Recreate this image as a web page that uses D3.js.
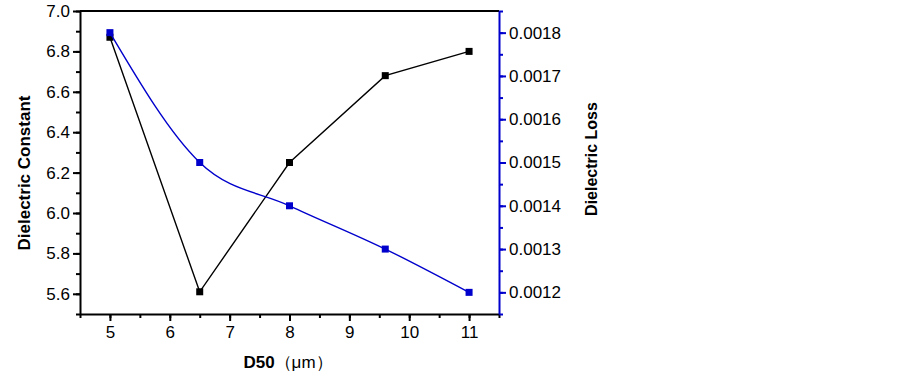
<!DOCTYPE html>
<html>
<head>
<meta charset="utf-8">
<script src="https://cdn.jsdelivr.net/npm/d3@7"></script>
<style>
  body { margin: 0; background: #fff; }
  text { font-family: "Liberation Sans", Arial, sans-serif; fill: #000; }
  .ttl { font-weight: bold; }
</style>
</head>
<body>
<svg id="chart" width="903" height="376"></svg>
<script>
// D50 particle size (um)
const d50 = [5, 6.5, 8, 9.6, 11];
// dielectric constant (left axis)
const constant = [6.87, 5.61, 6.25, 6.68, 6.80];
// dielectric loss (right axis)
const loss = [0.0018, 0.0015, 0.0014, 0.0013, 0.0012];

const xTicks = [5, 6, 7, 8, 9, 10, 11];
const yTicks = [5.6, 5.8, 6.0, 6.2, 6.4, 6.6, 6.8, 7.0];
const y2Ticks = [0.0012, 0.0013, 0.0014, 0.0015, 0.0016, 0.0017, 0.0018];

const svg = d3.select("#chart");
const pl = 80, pr = 499, pt = 11, pb = 314;
const blue = "#0000cc";

let x = d3.scaleLinear().domain([4.5, 11.5]).range([pl, pr]);
let y = d3.scaleLinear().domain([5.5, 7.0]).range([pb, pt]);
let y2 = d3.scaleLinear().domain([0.00115, 0.00185]).range([pb, pt]);

// top frame line
svg.append("line")
  .attr("x1", pl).attr("x2", pr)
  .attr("y1", pt).attr("y2", pt)
  .attr("stroke", "#000").attr("stroke-width", 2);

// minor ticks first
svg.append("g")
  .attr("transform", `translate(0,${pb})`)
  .call(d3.axisBottom(x).tickValues(d3.range(4.5, 11.51, 0.5)).tickSize(4).tickFormat(""))
  .call(g => g.select(".domain").remove())
  .selectAll("line").attr("stroke-width", 2);
svg.append("g")
  .attr("transform", `translate(${pl},0)`)
  .call(d3.axisLeft(y).tickValues(d3.range(5.5, 7.01, 0.1)).tickSize(4).tickFormat(""))
  .call(g => g.select(".domain").remove())
  .selectAll("line").attr("stroke-width", 2);
svg.append("g")
  .attr("transform", `translate(${pr},0)`)
  .call(d3.axisRight(y2).tickValues(d3.range(0.00115, 0.00185, 0.00005)).tickSize(4).tickFormat(""))
  .call(g => g.select(".domain").remove())
  .selectAll("line").attr("stroke", blue).attr("stroke-width", 2);

// major axes
let xAxis = svg.append("g")
  .attr("transform", `translate(0,${pb})`)
  .call(d3.axisBottom(x).tickValues(xTicks).tickSize(7).tickSizeOuter(0).tickPadding(5).tickFormat(d3.format("d")));
xAxis.selectAll("line, path").attr("stroke-width", 2);

let yAxis = svg.append("g")
  .attr("transform", `translate(${pl},0)`)
  .call(d3.axisLeft(y).tickValues(yTicks).tickSize(7).tickSizeOuter(0).tickPadding(3).tickFormat(d3.format(".1f")));
yAxis.selectAll("line, path").attr("stroke-width", 2);

let y2Axis = svg.append("g")
  .attr("transform", `translate(${pr},0)`)
  .call(d3.axisRight(y2).tickValues(y2Ticks).tickSize(7).tickSizeOuter(0).tickPadding(3).tickFormat(d3.format(".4f")));
y2Axis.selectAll("line, path").attr("stroke", blue).attr("stroke-width", 2);

svg.selectAll("g").attr("font-family", null).attr("font-size", 17);

// dielectric constant series
const cLine = d3.line().x((d, i) => x(d50[i])).y(d => y(d));
svg.append("path")
  .datum(constant)
  .attr("d", cLine)
  .attr("fill", "none").attr("stroke", "#000").attr("stroke-width", 1.4);
svg.selectAll(".cpt").data(constant).enter()
  .append("rect").attr("class", "cpt")
  .attr("x", (d, i) => x(d50[i]) - 3.5).attr("y", d => y(d) - 3.5)
  .attr("width", 7).attr("height", 7).attr("fill", "#000");

// dielectric loss series
const lLine = d3.line().x((d, i) => x(d50[i])).y(d => y2(d)).curve(d3.curveMonotoneX);
svg.append("path")
  .datum(loss)
  .attr("d", lLine)
  .attr("fill", "none").attr("stroke", blue).attr("stroke-width", 1.4);
svg.selectAll(".lpt").data(loss).enter()
  .append("rect").attr("class", "lpt")
  .attr("x", (d, i) => x(d50[i]) - 3.5).attr("y", d => y2(d) - 3.5)
  .attr("width", 7).attr("height", 7).attr("fill", blue);

// axis titles
svg.append("text").attr("class", "ttl")
  .attr("transform", "translate(30,173) rotate(-90)")
  .attr("text-anchor", "middle").attr("font-size", 17)
  .text("Dielectric Constant");
svg.append("text").attr("class", "ttl")
  .attr("transform", "translate(597,159) rotate(-90)")
  .attr("text-anchor", "middle").attr("font-size", 16)
  .text("Dielectric Loss");
let xt = svg.append("text").attr("class", "ttl")
  .attr("x", 288).attr("y", 368)
  .attr("text-anchor", "middle").attr("font-size", 17);
xt.append("tspan").text("D50");
xt.append("tspan").attr("font-weight", "normal").text("（μm）");
</script>
</body>
</html>
